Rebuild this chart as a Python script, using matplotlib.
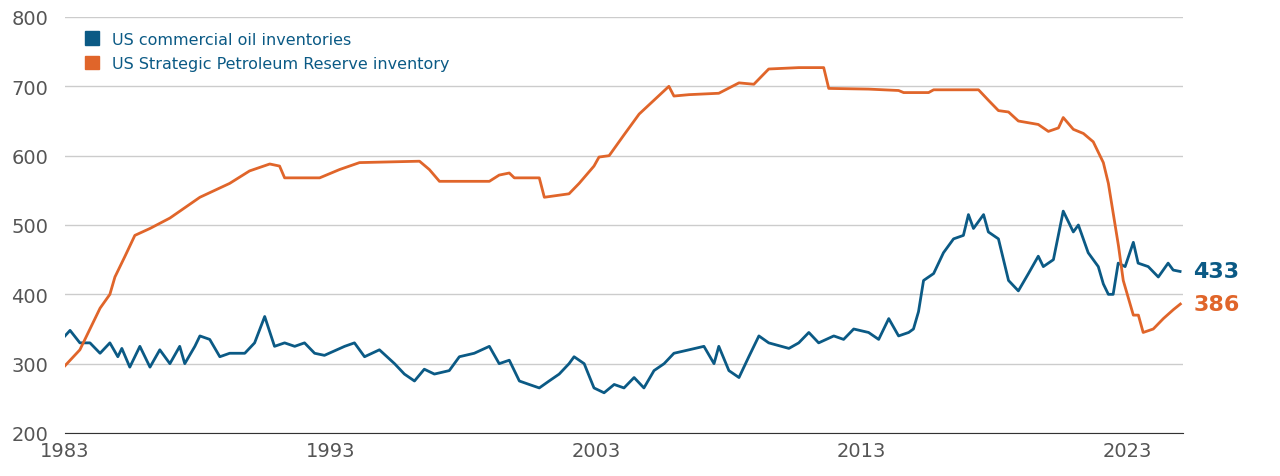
import numpy as np
import matplotlib.pyplot as plt

spr_t = [0,0.56,0.94,1.32,1.69,1.88,2.26,2.63,3.2,3.95,5.08,6.2,6.95,7.71,8.08,8.27,9.59,10.34,11.09,13.35,13.72,14.1,15.98,16.35,16.73,16.92,17.86,18.05,18.98,19.36,19.92,20.11,20.49,21.05,21.62,22.18,22.74,22.93,23.5,24.62,25.38,25.94,26.5,27.63,28.57,28.76,30.26,31.39,31.58,32.52,32.71,34.4,34.77,35.15,35.53,35.9,36.65,37.03,37.41,37.59,37.97,38.35,38.72,39.1,39.29,39.67,39.85,40.23,40.42,40.6,40.98,41.36,41.74,42.0]
spr_v = [297,320,350,380,400,425,455,485,495,510,540,560,578,588,585,568,568,580,590,592,580,563,563,572,575,568,568,540,545,560,585,598,600,630,660,680,700,686,688,690,705,703,725,727,727,697,696,694,691,691,695,695,680,665,663,650,645,635,640,655,638,632,620,590,560,470,420,370,370,345,350,365,378,386]

com_t = [0,0.19,0.56,0.94,1.32,1.69,1.99,2.14,2.44,2.82,3.2,3.57,3.95,4.32,4.51,4.89,5.08,5.45,5.83,6.2,6.77,7.14,7.52,7.89,8.27,8.65,9.02,9.4,9.77,10.53,10.9,11.28,11.84,12.41,12.78,13.16,13.53,13.91,14.47,14.85,15.41,15.98,16.35,16.73,17.11,17.48,17.86,18.23,18.61,18.98,19.17,19.55,19.92,20.3,20.68,21.05,21.43,21.8,22.18,22.56,22.93,23.5,24.06,24.44,24.62,25.0,25.38,25.75,26.13,26.5,27.26,27.63,28.01,28.38,28.95,29.32,29.7,30.26,30.64,31.02,31.39,31.77,31.95,32.14,32.33,32.71,33.08,33.46,33.83,34.02,34.21,34.59,34.77,35.15,35.34,35.53,35.9,36.28,36.65,36.84,37.22,37.59,37.97,38.16,38.53,38.91,39.1,39.29,39.47,39.66,39.92,40.23,40.41,40.79,41.17,41.54,41.73,41.99]
com_v = [340,348,330,330,315,330,310,322,295,325,295,320,300,325,300,325,340,335,310,315,315,330,368,325,330,325,330,315,312,325,330,310,320,300,285,275,292,285,290,310,315,325,300,305,275,270,265,275,285,300,310,300,265,258,270,265,280,265,290,300,315,320,325,300,325,290,280,310,340,330,322,330,345,330,340,335,350,345,335,365,340,345,350,375,420,430,460,480,485,515,495,515,490,480,450,420,405,430,455,440,450,520,490,500,460,440,415,400,400,445,440,475,445,440,425,445,435,433]

series_names = ["US commercial oil inventories", "US Strategic Petroleum Reserve inventory"]
year_ticks = [1983, 1993, 2003, 2013, 2023]
y_ticks = [200, 300, 400, 500, 600, 700, 800]

blue, orange = "#0b5a85", "#e0652a"
fig = plt.figure(figsize=(12.8, 4.77), dpi=100)
ax = fig.add_axes([65/1280, 43/477, 1118/1280, 416/477])
ct = 1983 + np.array(com_t); st = 1983 + np.array(spr_t)
ax.plot(ct, com_v, color=blue, lw=2, label=series_names[0])
ax.plot(st, spr_v, color=orange, lw=2, label=series_names[1])
ax.set_xlim(1983, 2025.1)
ax.set_ylim(200, 800)
ax.set_yticks(y_ticks)
ax.set_xticks(year_ticks)
ax.grid(axis='y', color='#cccccc', lw=1)
ax.set_axisbelow(True)
for s in ['top', 'right', 'left']:
    ax.spines[s].set_visible(False)
ax.spines['bottom'].set_color('#333333')
ax.tick_params(axis='both', length=0, labelsize=14, colors='#555555', pad=6)
ax.tick_params(axis='y', pad=12)
ax.text(ct[-1] + 0.5, com_v[-1], str(com_v[-1]), color=blue, fontsize=16, fontweight='bold', va='center', clip_on=False)
ax.text(st[-1] + 0.5, spr_v[-1], str(spr_v[-1]), color=orange, fontsize=16, fontweight='bold', va='center', clip_on=False)
from matplotlib.patches import Patch
handles = [Patch(color=blue), Patch(color=orange)]
leg = ax.legend(handles, series_names, loc='upper left', bbox_to_anchor=(0.005, 1.0), frameon=False,
                fontsize=11.5, handlelength=0.9, handleheight=0.9, labelspacing=0.6)
for t in leg.get_texts():
    t.set_color(blue)
fig.savefig("out.png", dpi=100)
